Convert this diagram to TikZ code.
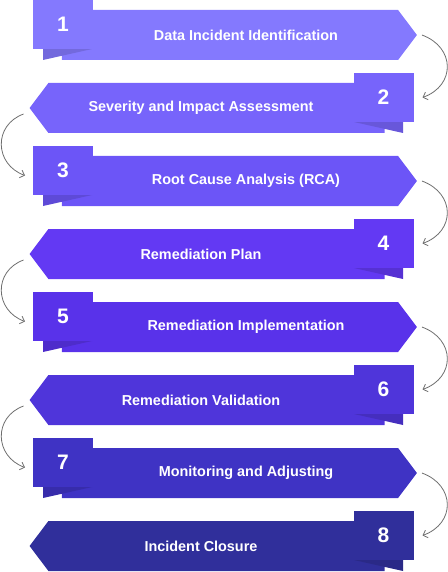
\documentclass[tikz,border=0pt]{standalone}
\usepackage{fontspec}
\setmainfont{Liberation Sans}
\usetikzlibrary{shapes.symbols,arrows.meta}

\definecolor{stepA}{HTML}{8479FE}
\definecolor{stepB}{HTML}{7764FB}
\definecolor{stepC}{HTML}{6C55F7}
\definecolor{stepD}{HTML}{6339F3}
\definecolor{stepE}{HTML}{5932EA}
\definecolor{stepF}{HTML}{4F35DA}
\definecolor{stepG}{HTML}{3F33C4}
\definecolor{stepH}{HTML}{302F9B}
\definecolor{flowgray}{HTML}{6E6E6E}

\tikzset{
  ribbon/.style={shape=signal, signal pointer angle=106, inner sep=0pt, outer sep=0pt,
    minimum height=50pt, minimum width=355pt},
  toright/.style={ribbon, signal to=east, signal from=nowhere},
  toleft/.style={ribbon, signal to=west, signal from=nowhere},
  numbox/.style={minimum width=60pt, minimum height=49pt, inner sep=0pt, outer sep=0pt,
    text=white, font=\bfseries\fontsize{21}{21}\selectfont},
  steplabel/.style={text=white, inner sep=0pt, font=\bfseries\fontsize{14.4}{16}\selectfont},
  flow/.style={draw=flowgray, line width=0.8pt, -{Straight Barb[length=4pt,width=8pt]}},
}

\begin{document}
\begin{tikzpicture}[x=1pt,y=1pt]
\useasboundingbox (0,0) rectangle (447,-572);
% step 1
\node [toright, fill=stepA] (r1) at (230,-35) {};
\fill [stepA!87!black] (43,-49) -- (92,-49) -- (43,-60) -- cycle;
\node [numbox, fill=stepA] (n1) at (63,-24.5) {1};
\node [steplabel] (t1) at (246,-35) {Data Incident Identification};
% step 2
\node [toleft, fill=stepB] (r2) at (216.5,-108) {};
\fill [stepB!87!black] (403,-122) -- (354,-122) -- (403,-133) -- cycle;
\node [numbox, fill=stepB] (n2) at (383.5,-97.5) {2};
\node [steplabel] (t2) at (201,-108) {Severity and Impact Assessment};
% step 3
\node [toright, fill=stepC] (r3) at (230,-181) {};
\fill [stepC!87!black] (43,-195) -- (92,-195) -- (43,-206) -- cycle;
\node [numbox, fill=stepC] (n3) at (63,-170.5) {3};
\node [steplabel] (t3) at (246,-181) {Root Cause Analysis (RCA)};
% step 4
\node [toleft, fill=stepD] (r4) at (216.5,-254) {};
\fill [stepD!87!black] (403,-268) -- (354,-268) -- (403,-279) -- cycle;
\node [numbox, fill=stepD] (n4) at (383.5,-243.5) {4};
\node [steplabel] (t4) at (201,-254) {Remediation Plan};
% step 5
\node [toright, fill=stepE] (r5) at (230,-327) {};
\fill [stepE!87!black] (43,-341) -- (92,-341) -- (43,-352) -- cycle;
\node [numbox, fill=stepE] (n5) at (63,-316.5) {5};
\node [steplabel] (t5) at (246,-327) {Remediation Implementation};
% step 6
\node [toleft, fill=stepF] (r6) at (216.5,-400) {};
\fill [stepF!87!black] (403,-414) -- (354,-414) -- (403,-425) -- cycle;
\node [numbox, fill=stepF] (n6) at (383.5,-389.5) {6};
\node [steplabel] (t6) at (201,-400) {Remediation Validation};
% step 7
\node [toright, fill=stepG] (r7) at (230,-473) {};
\fill [stepG!87!black] (43,-487) -- (92,-487) -- (43,-498) -- cycle;
\node [numbox, fill=stepG] (n7) at (63,-462.5) {7};
\node [steplabel] (t7) at (246,-473) {Monitoring and Adjusting};
% step 8
\node [toleft, fill=stepH] (r8) at (216.5,-546) {};
\fill [stepH!87!black] (403,-560) -- (354,-560) -- (403,-571) -- cycle;
\node [numbox, fill=stepH] (n8) at (383.5,-535.5) {8};
\node [steplabel] (t8) at (201,-546) {Incident Closure};
% connectors
\draw [flow] ([xshift=5pt]r1.east) to[out=-20,in=20,looseness=1.45] ([xshift=9pt]n2.east);
\draw [flow] ([shift={(-6pt,-6pt)}]r2.west) to[out=200,in=160,looseness=1.35] ([shift={(-8pt,-5pt)}]n3.west);
\draw [flow] ([xshift=5pt]r3.east) to[out=-20,in=20,looseness=1.45] ([xshift=9pt]n4.east);
\draw [flow] ([shift={(-6pt,-6pt)}]r4.west) to[out=200,in=160,looseness=1.35] ([shift={(-8pt,-5pt)}]n5.west);
\draw [flow] ([xshift=5pt]r5.east) to[out=-20,in=20,looseness=1.45] ([xshift=9pt]n6.east);
\draw [flow] ([shift={(-6pt,-6pt)}]r6.west) to[out=200,in=160,looseness=1.35] ([shift={(-8pt,-5pt)}]n7.west);
\draw [flow] ([xshift=5pt]r7.east) to[out=-20,in=20,looseness=1.45] ([xshift=9pt]n8.east);
\end{tikzpicture}
\end{document}
